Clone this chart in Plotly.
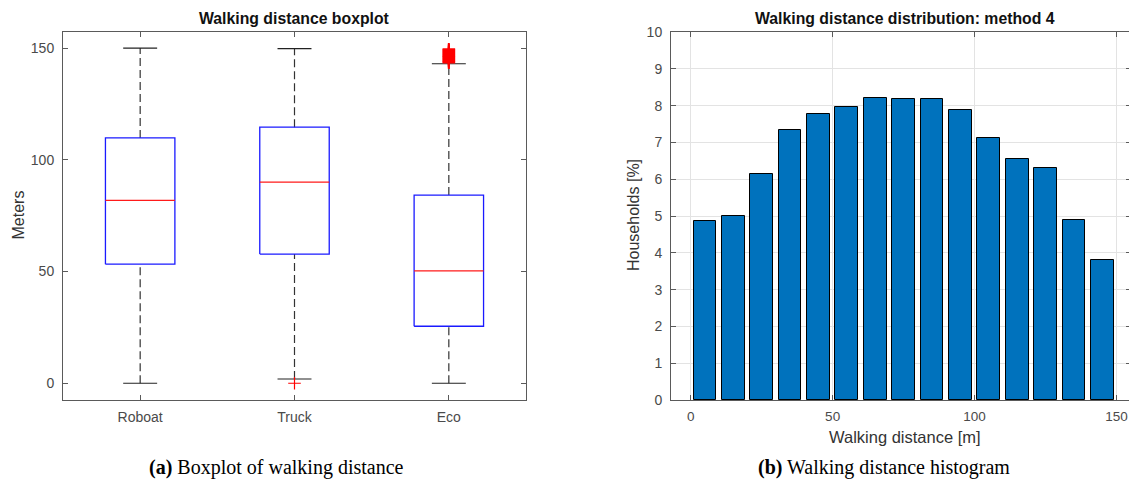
import plotly.graph_objects as go

# ---------------- data ----------------
categories = ["Roboat", "Truck", "Eco"]
lower_whisker = [0.0, 1.9, 0.0]
q1 = [53.3, 57.8, 25.5]
median = [81.8, 90.0, 50.3]
q3 = [109.8, 114.6, 84.2]
upper_whisker = [150.0, 149.8, 143.0]
outliers_truck = [0.0]
outliers_eco = [143.5, 144.0, 144.5, 145.0, 145.5, 146.0, 146.5, 147.0, 147.5, 148.0, 148.5, 149.0, 149.5]

bin_centers = [5, 15, 25, 35, 45, 55, 65, 75, 85, 95, 105, 115, 125, 135, 145]
households_pct = [4.86, 5.01, 6.15, 7.34, 7.78, 7.96, 8.22, 8.17, 8.17, 7.88, 7.12, 6.56, 6.30, 4.89, 3.81]

yticks_left = [0, 50, 100, 150]
yticks_right = list(range(0, 11))
xticks_right = [0, 50, 100, 150]

# ---------------- layout constants ----------------
W, H = 1131, 491   # slightly wider than the window so the right frame edge falls outside, as in the reference
FONT = "Liberation Sans"
TICK_COLOR = "#4a4a4a"
AX_COLOR = "#5a5a5a"

def px_x(p):
    return p / W

def px_y(p):
    return (H - p) / H

fig = go.Figure()

BOX_HALF = 0.225
CAP_HALF = 0.11
DASH = "8px,4px"

for i, name in enumerate(categories):
    xc = i + 1
    fig.add_trace(go.Scatter(x=[xc, xc], y=[q3[i], upper_whisker[i]], mode="lines",
                             line=dict(color="#333333", width=1.2, dash=DASH),
                             xaxis="x", yaxis="y", showlegend=False, hoverinfo="skip"))
    fig.add_trace(go.Scatter(x=[xc, xc], y=[lower_whisker[i], q1[i]], mode="lines",
                             line=dict(color="#333333", width=1.2, dash=DASH),
                             xaxis="x", yaxis="y", showlegend=False, hoverinfo="skip"))
    for v in (upper_whisker[i], lower_whisker[i]):
        fig.add_trace(go.Scatter(x=[xc - CAP_HALF, xc + CAP_HALF], y=[v, v], mode="lines",
                                 line=dict(color="#222222", width=1.2),
                                 xaxis="x", yaxis="y", showlegend=False, hoverinfo="skip"))
    fig.add_trace(go.Scatter(x=[xc - BOX_HALF, xc + BOX_HALF, xc + BOX_HALF, xc - BOX_HALF, xc - BOX_HALF],
                             y=[q1[i], q1[i], q3[i], q3[i], q1[i]], mode="lines",
                             line=dict(color="#1a1aff", width=1.3),
                             xaxis="x", yaxis="y", showlegend=False, hoverinfo="skip"))
    fig.add_trace(go.Scatter(x=[xc - BOX_HALF, xc + BOX_HALF], y=[median[i], median[i]], mode="lines",
                             line=dict(color="#ff1a1a", width=1.3),
                             xaxis="x", yaxis="y", showlegend=False, hoverinfo="skip"))

fig.add_trace(go.Scatter(x=[2] * len(outliers_truck), y=outliers_truck, mode="markers",
                         marker=dict(symbol="cross-thin", size=9, line=dict(color="#ff0000", width=1.2)),
                         xaxis="x", yaxis="y", showlegend=False, hoverinfo="skip"))
fig.add_trace(go.Scatter(x=[3] * len(outliers_eco), y=outliers_eco, mode="markers",
                         marker=dict(symbol="cross-thin", size=9, line=dict(color="#ff0000", width=2)),
                         xaxis="x", yaxis="y", showlegend=False, hoverinfo="skip"))

fig.add_trace(go.Bar(x=bin_centers, y=households_pct, width=8,
                     marker=dict(color="#0072BD", line=dict(color="#000000", width=1)),
                     xaxis="x2", yaxis="y2", showlegend=False, hoverinfo="skip"))

common_axis = dict(showline=True, linecolor=AX_COLOR, linewidth=1, mirror="allticks",
                   ticks="inside", ticklen=5, tickcolor=AX_COLOR, zeroline=False,
                   automargin=False, ticklabeloverflow="allow",
                   tickfont=dict(family=FONT, size=14, color=TICK_COLOR))

fig.update_layout(
    width=W, height=H,
    margin=dict(l=0, r=0, t=0, b=0, pad=0, autoexpand=False),
    paper_bgcolor="white", plot_bgcolor="white",
    xaxis=dict(domain=[px_x(63), px_x(526)], range=[0.5, 3.5],
               tickmode="array", tickvals=[1, 2, 3], ticktext=categories,
               ticklabelstandoff=4,
               showgrid=False, anchor="y", **common_axis),
    yaxis=dict(domain=[px_y(400), px_y(32)], range=[-7.5, 157.2],
               tickmode="array", tickvals=yticks_left,
               ticklabelstandoff=5,
               showgrid=False, anchor="x", **common_axis),
    xaxis2=dict(domain=[px_x(671), 1.0], range=[-6.94, 155.1],
                tickmode="array", tickvals=xticks_right,
                ticklabelstandoff=4,
                showgrid=True, gridcolor="#e3e3e3", anchor="y2", **common_axis),
    yaxis2=dict(domain=[px_y(400), px_y(32)], range=[0, 10],
                tickmode="array", tickvals=yticks_right,
                ticklabelstandoff=5,
                showgrid=True, gridcolor="#e3e3e3", anchor="x2", **common_axis),
    bargap=0,
)
fig.update_xaxes(tickfont=dict(family=FONT, size=13.5, color=TICK_COLOR), selector=dict(anchor="y2"))

annotations = [
    dict(text="<b>Walking distance boxplot</b>", x=px_x(294.5), y=px_y(18),
         font=dict(family=FONT, size=15.8, color="#111111")),
    dict(text="<b>Walking distance distribution: method 4</b>", x=px_x(905), y=px_y(18),
         font=dict(family=FONT, size=15.8, color="#111111")),
    dict(text="Meters", x=px_x(18.5), y=px_y(215), textangle=-90,
         font=dict(family=FONT, size=16, color="#333333")),
    dict(text="Households [%]", x=px_x(634), y=px_y(215), textangle=-90,
         font=dict(family=FONT, size=16, color="#333333")),
    dict(text="Walking distance [m]", x=px_x(905), y=px_y(437),
         font=dict(family=FONT, size=16.5, color="#333333")),
    dict(text="<b>(a)</b> Boxplot of walking distance", x=px_x(276), y=px_y(467),
         font=dict(family="Liberation Serif", size=20, color="#000000")),
    dict(text="<b>(b)</b> Walking distance histogram", x=px_x(884), y=px_y(467),
         font=dict(family="Liberation Serif", size=20, color="#000000")),
]
for a in annotations:
    a.update(xref="paper", yref="paper", showarrow=False, xanchor="center", yanchor="middle")
fig.update_layout(annotations=annotations)

fig.write_html("out.html",
               config={"displayModeBar": False},
               post_script="document.body.style.margin='0';document.body.style.overflow='hidden';")
